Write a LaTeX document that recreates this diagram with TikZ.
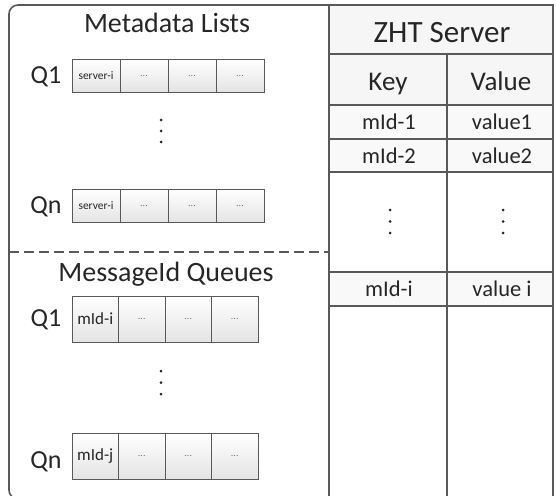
\documentclass[tikz,border=0pt]{standalone}
\usepackage{fontspec}
\setmainfont{Carlito}
\usetikzlibrary{positioning, calc}
\definecolor{framegray}{HTML}{595959}
\definecolor{cellgray}{HTML}{E4E4E4}
\definecolor{textgray}{HTML}{262626}
\tikzset{
	cell/.style={draw=framegray, line width=1pt, top color=white, bottom color=cellgray,
		inner sep=0pt, outer sep=0pt, text=textgray},
	metacell/.style={cell, minimum width=48pt, minimum height=33pt},
	msgcell/.style={cell, minimum width=46.5pt, minimum height=46pt},
	smalldots/.style={text=black!55, font=\fontsize{10}{10}\selectfont},
	title/.style={text=textgray, anchor=base, font=\fontsize{28}{32}\selectfont},
	qlabel/.style={text=textgray, anchor=base, font=\fontsize{26}{30}\selectfont},
	rowtext/.style={text=textgray, anchor=base, font=\fontsize{22.5}{26}\selectfont},
	tabline/.style={draw=framegray, line width=1.2pt}
}

\begin{document}
\begin{tikzpicture}[x=1pt, y=-1pt]
	\useasboundingbox (0,0) rectangle (556,495);
	\clip (0,0) rectangle (556,495);

	% ZHT table fills
	\fill[gray!7] (329,5) rectangle (553,105);
	\fill[gray!5] (329,105) rectangle (553,172);
	\fill[gray!5] (329,272) rectangle (553,306);

	% Left panel frame
	\draw[line width=1.6pt, framegray, rounded corners=9pt] (329,5) -- (9,5) -- (9,499) -- (329,499);
	\draw[line width=1.4pt, framegray, dash pattern=on 10pt off 5pt] (9,252) -- (329,252);

	% Metadata lists
	\node[title] (meta) at (167,33) {Metadata Lists};
	\node[qlabel] (mq1) at (46,83) {Q1};
	\node[metacell, anchor=west, font=\fontsize{11.5}{11}\selectfont] (mq1-1) at (72,75.5) {server-i};
	\foreach \i [remember=\i as \j (initially 1)] in {2,3,4}
		\node[metacell, smalldots, right=0pt of mq1-\j] (mq1-\i) {...};
	\foreach \k in {0,1,2}
		\fill[textgray] (161,120+11*\k) circle (1.5pt);
	\node[qlabel] (mqn) at (46,213) {Qn};
	\node[metacell, anchor=west, font=\fontsize{11.5}{11}\selectfont] (mqn-1) at (72,205.5) {server-i};
	\foreach \i [remember=\i as \j (initially 1)] in {2,3,4}
		\node[metacell, smalldots, right=0pt of mqn-\j] (mqn-\i) {...};

	% MessageId queues
	\node[title] (msg) at (166,281) {MessageId Queues};
	\node[qlabel] (sq1) at (46,326) {Q1};
	\node[msgcell, anchor=west, font=\fontsize{17}{17}\selectfont] (sq1-1) at (72,319) {mId-i};
	\foreach \i [remember=\i as \j (initially 1)] in {2,3,4}
		\node[msgcell, smalldots, right=0pt of sq1-\j] (sq1-\i) {...};
	\foreach \k in {0,1,2}
		\fill[textgray] (161,371+11.5*\k) circle (1.5pt);
	\node[qlabel] (sqn) at (46,468) {Qn};
	\node[msgcell, anchor=west, font=\fontsize{17}{17}\selectfont] (sqn-1) at (72,456) {mId-j};
	\foreach \i [remember=\i as \j (initially 1)] in {2,3,4}
		\node[msgcell, smalldots, right=0pt of sqn-\j] (sqn-\i) {...};

	% ZHT server table
	\draw[tabline] (329,5) rectangle (553,520);
	\foreach \y in {54,105,139,172,272,306}
		\draw[tabline] (329,\y) -- (553,\y);
	\draw[tabline] (447,54) -- (447,520);
	\node[title, font=\fontsize{31}{34}\selectfont] (zht) at (442,42) {ZHT Server};
	\node[title, font=\fontsize{27}{30}\selectfont] (key) at (388,90) {Key};
	\node[title, font=\fontsize{27}{30}\selectfont] (val) at (501,90) {Value};
	\node[rowtext] (k1) at (389,129) {mId-1};
	\node[rowtext] (v1) at (502,129) {value1};
	\node[rowtext] (k2) at (389,163) {mId-2};
	\node[rowtext] (v2) at (502,163) {value2};
	\foreach \x in {390,503}
		\foreach \k in {0,1,2}
			\fill[textgray] (\x,210+11.5*\k) circle (1.5pt);
	\node[rowtext] (ki) at (389,296) {mId-i};
	\node[rowtext] (vi) at (502,296) {value i};
\end{tikzpicture}
\end{document}
